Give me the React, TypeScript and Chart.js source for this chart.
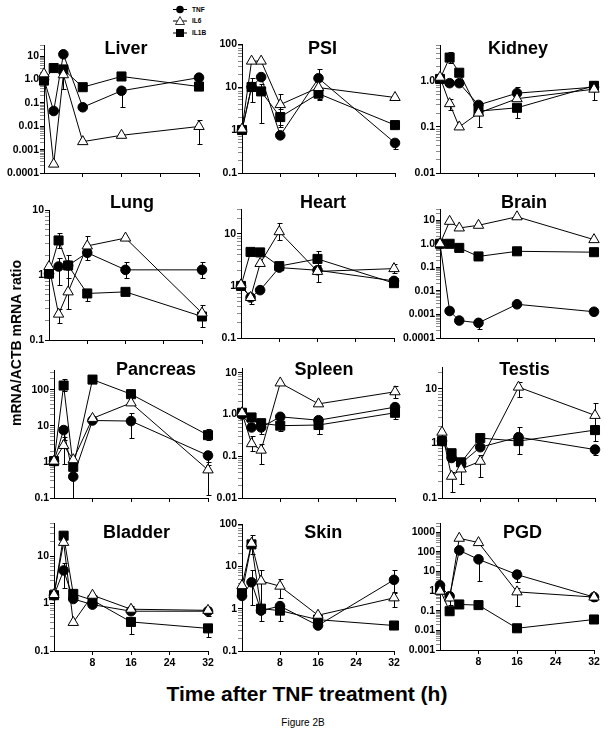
import React, { useEffect, useRef } from 'react';
import { Chart, registerables } from 'chart.js';
Chart.register(...registerables);

const FONT = '"Liberation Sans", Arial, Helvetica, sans-serif';

// ---------- data ----------
const hours = [0, 2, 4, 8, 16, 32];
const xTickValues = [0, 8, 16, 24, 32];
const seriesNames = ['TNF', 'IL6', 'IL1B'];

type Err = [number, number] | null;

const liverTNF = [1.0, 0.045, 12, 0.065, 0.33, 1.2];
const liverIL6 = [1.75, 0.00024, 1.6, 0.0022, 0.0041, 0.0098];
const liverIL1B = [0.9, 3.1, 2.7, 0.47, 1.35, 0.5];
const liverTNFErr: Err[] = [null, null, null, null, [0.07, 0.5], null];
const liverIL6Err: Err[] = [null, null, [0.4, 2.5], null, null, [0.0017, 0.019]];
const liverIL1BErr: Err[] = [null, null, null, null, null, null];
const liverYLabels = ['0.0001', '0.001', '0.01', '0.1', '1.0', '10'];

const psiTNF = [1.0, 10, 17, 0.75, 16, 0.5];
const psiIL6 = [1.05, 40, 40, 3.9, 9.7, 5.7];
const psiIL1B = [1.0, 10, 7.9, 2.0, 7.0, 1.3];
const psiTNFErr: Err[] = [null, null, null, null, [5.3, 26], [0.36, 0.6]];
const psiIL6Err: Err[] = [null, null, null, [1.3, 6.7], null, null];
const psiIL1BErr: Err[] = [null, [4.5, 16], [1.45, 12], [1.2, 3], [5, 9], null];
const psiYLabels = ['0.1', '1', '10', '100'];

const kidneyTNF = [1.1, 0.89, 0.89, 0.3, 0.54, 0.73];
const kidneyIL6 = [1.2, 0.32, 0.1, 0.2, 0.41, 0.66];
const kidneyIL1B = [1.1, 3.2, 1.5, 0.22, 0.26, 0.78];
const kidneyTNFErr: Err[] = [null, null, null, null, [0.4, 0.72], null];
const kidneyIL6Err: Err[] = [null, [0.23, 0.4], null, [0.1, 0.25], null, [0.38, 0.8]];
const kidneyIL1BErr: Err[] = [null, [2.5, 4.3], null, null, [0.16, 0.3], [0.6, 1.0]];
const kidneyYLabels = ['0.01', '0.1', '1.0'];

const lungTNF = [1.05, 1.35, 1.4, 2.2, 1.2, 1.2];
const lungIL6 = [1.35, 0.25, 0.55, 2.8, 3.7, 0.26];
const lungIL1B = [1.05, 3.4, 1.4, 0.52, 0.55, 0.23];
const lungTNFErr: Err[] = [null, [0.7, 1.8], [0.9, 2.0], [1.7, 2.6], [0.9, 1.6], [0.9, 1.6]];
const lungIL6Err: Err[] = [null, [0.18, 0.3], [0.3, 1.3], [2, 4], null, [0.2, 0.35]];
const lungIL1BErr: Err[] = [null, [2.6, 4.5], null, [0.4, 0.6], null, [0.16, 0.27]];
const lungYLabels = ['0.1', '1', '10'];

const heartTNF = [1.0, 0.6, 0.83, 2.25, 2.0, 1.25];
const heartIL6 = [1.05, 0.6, 2.7, 11, 1.9, 2.15];
const heartIL1B = [1.0, 4.5, 4.4, 2.4, 3.3, 1.13];
const heartTNFErr: Err[] = [null, null, null, null, null, null];
const heartIL6Err: Err[] = [null, [0.45, 0.7], null, [7.5, 16], [1.2, 2.4], [1.8, 2.6]];
const heartIL1BErr: Err[] = [null, null, null, null, [2.5, 4.6], null];
const heartYLabels = ['0.1', '1', '10'];

const brainTNF = [1.0, 0.0014, 0.00055, 0.00044, 0.0027, 0.0013];
const brainIL6 = [1.0, 9, 4.7, 6.1, 14, 1.5];
const brainIL1B = [1.0, 1.0, 0.67, 0.29, 0.48, 0.44];
const brainTNFErr: Err[] = [null, null, null, [0.00023, 0.0006], null, null];
const brainIL6Err: Err[] = [null, null, null, null, null, null];
const brainIL1BErr: Err[] = [null, null, null, null, null, null];
const brainYLabels = ['0.0001', '0.001', '0.01', '0.1', '1.0', '10'];

const pancreasTNF = [1.05, 7.6, 0.39, 14, 13.5, 1.5];
const pancreasIL6 = [1.05, 2.85, 1.15, 16, 43, 0.6];
const pancreasIL1B = [1.05, 130, 0.73, 190, 75, 5.5];
const pancreasTNFErr: Err[] = [null, [4, 10], [0.1, 0.6], null, [4.7, 23], [0.8, 2]];
const pancreasIL6Err: Err[] = [null, [0.9, 5], null, null, null, [0.12, 1]];
const pancreasIL1BErr: Err[] = [null, [90, 200], null, null, null, [4, 8]];
const pancreasYLabels = ['0.1', '1', '10', '100'];

const spleenTNF = [1.0, 0.49, 0.49, 0.88, 0.73, 1.5];
const spleenIL6 = [1.1, 0.2, 0.14, 5.7, 1.8, 3.5];
const spleenIL1B = [1.1, 0.85, 0.62, 0.54, 0.56, 1.1];
const spleenTNFErr: Err[] = [null, null, [0.35, 0.6], [0.7, 1.1], [0.35, 0.8], [1.1, 1.9]];
const spleenIL6Err: Err[] = [null, [0.13, 0.3], [0.065, 0.2], null, null, [2.5, 4.7]];
const spleenIL1BErr: Err[] = [null, null, null, [0.4, 0.6], [0.35, 0.6], [0.8, 1.3]];
const spleenYLabels = ['0.01', '0.1', '1.0', '10'];

const testisTNF = [1.1, 0.54, 0.43, 0.85, 1.3, 0.77];
const testisIL6 = [1.6, 0.25, 0.34, 0.47, 10.7, 3.25];
const testisIL1B = [1.1, 0.66, 0.45, 1.25, 1.1, 1.75];
const testisTNFErr: Err[] = [null, null, null, null, [0.65, 2.0], [0.6, 0.9]];
const testisIL6Err: Err[] = [null, [0.13, 0.3], [0.18, 0.4], [0.24, 0.6], [7, 13.5], [2, 5.5]];
const testisIL1BErr: Err[] = [null, null, null, null, null, [1.1, 2.2]];
const testisYLabels = ['0.1', '1', '10'];

const bladderTNF = [1.5, 5, 1.25, 0.95, 0.69, 0.69];
const bladderIL6 = [1.55, 19.5, 0.4, 1.5, 0.76, 0.72];
const bladderIL1B = [1.5, 27, 1.6, 1.18, 0.41, 0.3];
const bladderTNFErr: Err[] = [null, [2.1, 7], null, null, null, [0.55, 0.85]];
const bladderIL6Err: Err[] = [null, null, null, null, [0.6, 0.9], null];
const bladderIL1BErr: Err[] = [null, null, null, null, [0.23, 0.5], [0.2, 0.35]];
const bladderYLabels = ['0.1', '1', '10'];

const skinTNF = [2.0, 4.2, 0.9, 1.15, 0.4, 4.8];
const skinIL6 = [3.5, 35, 4.5, 3.4, 0.7, 1.8];
const skinIL1B = [2.4, 33, 1.0, 0.9, 0.55, 0.4];
const skinTNFErr: Err[] = [null, [1.2, 8], null, null, null, [2.5, 8]];
const skinIL6Err: Err[] = [null, [20, 55], [0.5, 8], [1.8, 5], null, [1.1, 2.3]];
const skinIL1BErr: Err[] = [null, null, null, [0.5, 1], null, null];
const skinYLabels = ['0.1', '1', '10', '100'];

const pgdTNF = [2.0, 0.55, 120, 42, 7, 0.5];
const pgdIL6 = [1.0, 0.45, 500, 300, 0.92, 0.5];
const pgdIL1B = [1.2, 0.095, 0.21, 0.195, 0.0128, 0.036];
const pgdTNFErr: Err[] = [null, null, null, [3.2, 60], [3, 12], null];
const pgdIL6Err: Err[] = [null, [0.2, 0.6], null, null, [0.18, 1.5], [0.3, 0.7]];
const pgdIL1BErr: Err[] = [null, null, null, null, null, null];
const pgdYLabels = ['0.001', '0.01', '0.1', '1', '10', '100', '1000'];

// ---------- layout ----------
const YW = 46, PADT = 32, PADR = 12, XH = 22;

type PanelDef = {
  name: string;
  tnf: number[]; il6: number[]; il1b: number[];
  tnfErr: Err[]; il6Err: Err[]; il1bErr: Err[];
  yMin: number; yMax: number; yLabels: string[];
  box: [number, number, number, number]; // left, top, right, bottom of plot area
  title: [number, number]; // center x, baseline y
  showX: boolean;
};

const panels: PanelDef[] = [
  { name: 'Liver', tnf: liverTNF, il6: liverIL6, il1b: liverIL1B, tnfErr: liverTNFErr, il6Err: liverIL6Err, il1bErr: liverIL1BErr, yMin: 0.0001, yMax: 30, yLabels: liverYLabels, box: [44, 45, 199, 173], title: [126, 53.5], showX: false },
  { name: 'PSI', tnf: psiTNF, il6: psiIL6, il1b: psiIL1B, tnfErr: psiTNFErr, il6Err: psiIL6Err, il1bErr: psiIL1BErr, yMin: 0.1, yMax: 100, yLabels: psiYLabels, box: [242, 44, 395, 173], title: [322.5, 54], showX: false },
  { name: 'Kidney', tnf: kidneyTNF, il6: kidneyIL6, il1b: kidneyIL1B, tnfErr: kidneyTNFErr, il6Err: kidneyIL6Err, il1bErr: kidneyIL1BErr, yMin: 0.01, yMax: 6, yLabels: kidneyYLabels, box: [440, 45, 594, 173], title: [518, 53.5], showX: false },
  { name: 'Lung', tnf: lungTNF, il6: lungIL6, il1b: lungIL1B, tnfErr: lungTNFErr, il6Err: lungIL6Err, il1bErr: lungIL1BErr, yMin: 0.1, yMax: 10, yLabels: lungYLabels, box: [49, 210, 202, 340], title: [132, 208], showX: false },
  { name: 'Heart', tnf: heartTNF, il6: heartIL6, il1b: heartIL1B, tnfErr: heartTNFErr, il6Err: heartIL6Err, il1bErr: heartIL1BErr, yMin: 0.1, yMax: 30, yLabels: heartYLabels, box: [241, 209, 394, 338], title: [323, 208.3], showX: false },
  { name: 'Brain', tnf: brainTNF, il6: brainIL6, il1b: brainIL1B, tnfErr: brainTNFErr, il6Err: brainIL6Err, il1bErr: brainIL1BErr, yMin: 0.0001, yMax: 30, yLabels: brainYLabels, box: [440, 209, 594, 338], title: [524, 208.3], showX: false },
  { name: 'Pancreas', tnf: pancreasTNF, il6: pancreasIL6, il1b: pancreasIL1B, tnfErr: pancreasTNFErr, il6Err: pancreasIL6Err, il1bErr: pancreasIL1BErr, yMin: 0.1, yMax: 350, yLabels: pancreasYLabels, box: [54, 370, 208, 498], title: [156, 375], showX: false },
  { name: 'Spleen', tnf: spleenTNF, il6: spleenIL6, il1b: spleenIL1B, tnfErr: spleenTNFErr, il6Err: spleenIL6Err, il1bErr: spleenIL1BErr, yMin: 0.01, yMax: 13, yLabels: spleenYLabels, box: [242, 368, 395, 498], title: [324, 375], showX: false },
  { name: 'Testis', tnf: testisTNF, il6: testisIL6, il1b: testisIL1B, tnfErr: testisTNFErr, il6Err: testisIL6Err, il1bErr: testisIL1BErr, yMin: 0.1, yMax: 25, yLabels: testisYLabels, box: [442, 367, 595, 498], title: [524.5, 375], showX: false },
  { name: 'Bladder', tnf: bladderTNF, il6: bladderIL6, il1b: bladderIL1B, tnfErr: bladderTNFErr, il6Err: bladderIL6Err, il1bErr: bladderIL1BErr, yMin: 0.1, yMax: 50, yLabels: bladderYLabels, box: [54, 523, 208, 651], title: [136.5, 538.3], showX: true },
  { name: 'Skin', tnf: skinTNF, il6: skinIL6, il1b: skinIL1B, tnfErr: skinTNFErr, il6Err: skinIL6Err, il1bErr: skinIL1BErr, yMin: 0.1, yMax: 100, yLabels: skinYLabels, box: [242, 524, 394, 651], title: [323.3, 538.3], showX: true },
  { name: 'PGD', tnf: pgdTNF, il6: pgdIL6, il1b: pgdIL1B, tnfErr: pgdTNFErr, il6Err: pgdIL6Err, il1bErr: pgdIL1BErr, yMin: 0.001, yMax: 3000, yLabels: pgdYLabels, box: [440, 523, 594, 650], title: [522.5, 538.3], showX: true },
];

function isDecade(v: number) {
  const e = Math.log10(v);
  return Math.abs(e - Math.round(e)) < 1e-6;
}

function buildLogTicks(min: number, max: number) {
  const out: { value: number; major: boolean }[] = [];
  const e0 = Math.floor(Math.log10(min) + 1e-9);
  const e1 = Math.ceil(Math.log10(max) - 1e-9);
  for (let e = e0; e <= e1; e++) {
    for (let m = 1; m <= 9; m++) {
      const v = Number((m * Math.pow(10, e)).toPrecision(8));
      if (v >= min * 0.9999 && v <= max * 1.0001) out.push({ value: v, major: m === 1 });
    }
  }
  return out;
}

const errorBarPlugin = {
  id: 'errbars',
  beforeDatasetsDraw(chart: any) {
    const { ctx } = chart;
    const xs = chart.scales.x;
    const ys = chart.scales.y;
    ctx.save();
    ctx.strokeStyle = '#000';
    ctx.lineWidth = 1;
    chart.data.datasets.forEach((ds: any) => {
      (ds.errors || []).forEach((e: Err, j: number) => {
        if (!e) return;
        const px = Math.round(xs.getPixelForValue(hours[j])) + 0.5;
        const y0 = Math.round(ys.getPixelForValue(e[0])) + 0.5;
        const y1 = Math.round(ys.getPixelForValue(e[1])) + 0.5;
        ctx.beginPath();
        ctx.moveTo(px, y0);
        ctx.lineTo(px, y1);
        ctx.moveTo(px - 2, y0);
        ctx.lineTo(px + 3, y0);
        ctx.moveTo(px - 2, y1);
        ctx.lineTo(px + 3, y1);
        ctx.stroke();
      });
    });
    ctx.restore();
  },
};

function Panel({ p }: { p: PanelDef }) {
  const ref = useRef<HTMLCanvasElement | null>(null);
  const [L, T, R, B] = p.box;
  const plotW = R - L;
  const plotH = B - T;
  const cw = YW + plotW + PADR;
  const ch = PADT + plotH + XH;
  const cl = L - YW;
  const ct = T - PADT;

  useEffect(() => {
    if (!ref.current) return;
    const mk = (name: string, vals: number[], errs: Err[], order: number) => {
      const base: any = {
        label: name,
        data: hours.map((h, i) => ({ x: h, y: vals[i] })),
        errors: errs,
        borderColor: '#000',
        borderWidth: 1,
        tension: 0,
        clip: false,
        order,
        pointBorderColor: '#000',
        pointBorderWidth: 1,
      };
      if (name === 'TNF') {
        base.pointStyle = 'circle';
        base.pointRadius = 4.8;
        base.pointBackgroundColor = '#000';
      } else if (name === 'IL6') {
        base.pointStyle = 'triangle';
        base.pointRadius = 6;
        base.pointBackgroundColor = '#fff';
      } else {
        base.pointStyle = 'rect';
        base.pointRadius = 6.4;
        base.pointBackgroundColor = '#000';
      }
      return base;
    };
    const titlePlugin = {
      id: 'panelTitle',
      afterDraw(chart: any) {
        const ctx = chart.ctx;
        ctx.save();
        ctx.font = `bold 18px ${FONT}`;
        ctx.fillStyle = '#000';
        ctx.textAlign = 'center';
        ctx.textBaseline = 'alphabetic';
        ctx.fillText(p.name, p.title[0] - cl, p.title[1] - ct);
        ctx.restore();
      },
    };
    const chart = new Chart(ref.current, {
      type: 'line',
      data: {
        datasets: [
          mk(seriesNames[0], p.tnf, p.tnfErr, 2),
          mk(seriesNames[2], p.il1b, p.il1bErr, 1),
          mk(seriesNames[1], p.il6, p.il6Err, 0),
        ],
      },
      options: {
        responsive: false,
        animation: false,
        devicePixelRatio: 1,
        layout: { padding: { left: 0, right: PADR, top: PADT, bottom: 0 } },
        plugins: {
          legend: { display: false },
          tooltip: { enabled: false },
          title: { display: false },
        },
        events: [],
        scales: {
          x: {
            type: 'linear',
            min: 0,
            max: 32,
            afterBuildTicks: (s: any) => {
              s.ticks = xTickValues.map((v) => ({ value: v }));
            },
            afterFit: (s: any) => {
              s.height = XH;
              s.paddingLeft = 0;
              s.paddingRight = 0;
            },
            ticks: {
              display: p.showX,
              autoSkip: false,
              maxRotation: 0,
              color: '#000',
              padding: 2,
              font: { family: FONT, size: 10.5, weight: 'bold' },
              callback: (v: any) => (v === 0 ? '' : String(v)),
            },
            grid: {
              drawOnChartArea: false,
              drawTicks: true,
              tickLength: 4,
              color: '#000',
              tickColor: (c: any) => (c.tick && c.tick.value === 0 ? 'rgba(0,0,0,0)' : '#000'),
            },
            border: { display: true, color: '#000', width: 1 },
          },
          y: {
            type: 'logarithmic',
            min: p.yMin,
            max: p.yMax,
            afterBuildTicks: (s: any) => {
              s.ticks = buildLogTicks(p.yMin, p.yMax);
            },
            afterFit: (s: any) => {
              s.width = YW;
              s.paddingTop = 0;
              s.paddingBottom = 0;
            },
            ticks: {
              autoSkip: false,
              color: '#000',
              padding: 1,
              font: { family: FONT, size: 10.5, weight: 'bold' },
              callback: (v: any) => {
                if (!isDecade(v)) return '';
                const idx = Math.round(Math.log10(v)) - Math.round(Math.log10(p.yMin));
                return p.yLabels[idx] ?? '';
              },
            },
            grid: {
              drawOnChartArea: false,
              drawTicks: true,
              tickLength: 4,
              color: '#000',
              tickColor: (c: any) => (c.tick && isDecade(c.tick.value) ? '#000' : '#8a8a8a'),
            },
            border: { display: true, color: '#000', width: 1 },
          },
        },
      } as any,
      plugins: [errorBarPlugin, titlePlugin],
    });
    return () => chart.destroy();
  }, []);

  return (
    <canvas
      ref={ref}
      width={cw}
      height={ch}
      style={{ position: 'absolute', left: cl, top: ct, width: cw, height: ch }}
    />
  );
}

function Legend() {
  const rows = [
    { y: 9.5, name: seriesNames[0], kind: 'circle' },
    { y: 21, name: seriesNames[1], kind: 'triangle' },
    { y: 33, name: seriesNames[2], kind: 'rect' },
  ];
  return (
    <svg width={60} height={42} style={{ position: 'absolute', left: 165, top: 0 }}>
      {rows.map((r) => (
        <g key={r.name}>
          <line x1={8} x2={22} y1={r.y} y2={r.y} stroke="#000" strokeWidth={1} />
          {r.kind === 'circle' && <circle cx={15} cy={r.y} r={3.8} fill="#000" />}
          {r.kind === 'triangle' && (
            <polygon points={`15,${r.y - 4.5} ${19.5},${r.y + 3.5} ${10.5},${r.y + 3.5}`} fill="#fff" stroke="#000" strokeWidth={0.8} />
          )}
          {r.kind === 'rect' && <rect x={11} y={r.y - 4} width={8} height={8} fill="#000" />}
          <text x={27} y={r.y + 2.3} fontFamily={FONT} fontWeight="bold" fontSize={6.5} fill="#000">
            {r.name}
          </text>
        </g>
      ))}
    </svg>
  );
}

export default function App() {
  return (
    <div style={{ position: 'absolute', left: 0, top: 0, width: 605, height: 746, background: '#fff', fontFamily: FONT, overflow: 'hidden' }}>
      <Legend />
      {panels.map((p) => (
        <Panel key={p.name} p={p} />
      ))}
      <div
        style={{
          position: 'absolute',
          left: 15.5,
          top: 343,
          transform: 'translate(-50%, -50%) rotate(-90deg)',
          whiteSpace: 'nowrap',
          fontWeight: 'bold',
          fontSize: 14,
          lineHeight: 1,
        }}
      >
        mRNA/ACTB mRNA ratio
      </div>
      <div
        style={{
          position: 'absolute',
          left: 307,
          top: 693,
          transform: 'translate(-50%, -50%)',
          whiteSpace: 'nowrap',
          fontWeight: 'bold',
          fontSize: 21,
          lineHeight: 1,
        }}
      >
        Time after TNF treatment (h)
      </div>
      <div
        style={{
          position: 'absolute',
          left: 303,
          top: 723,
          transform: 'translate(-50%, -50%)',
          whiteSpace: 'nowrap',
          fontSize: 10,
          lineHeight: 1,
        }}
      >
        Figure 2B
      </div>
    </div>
  );
}
